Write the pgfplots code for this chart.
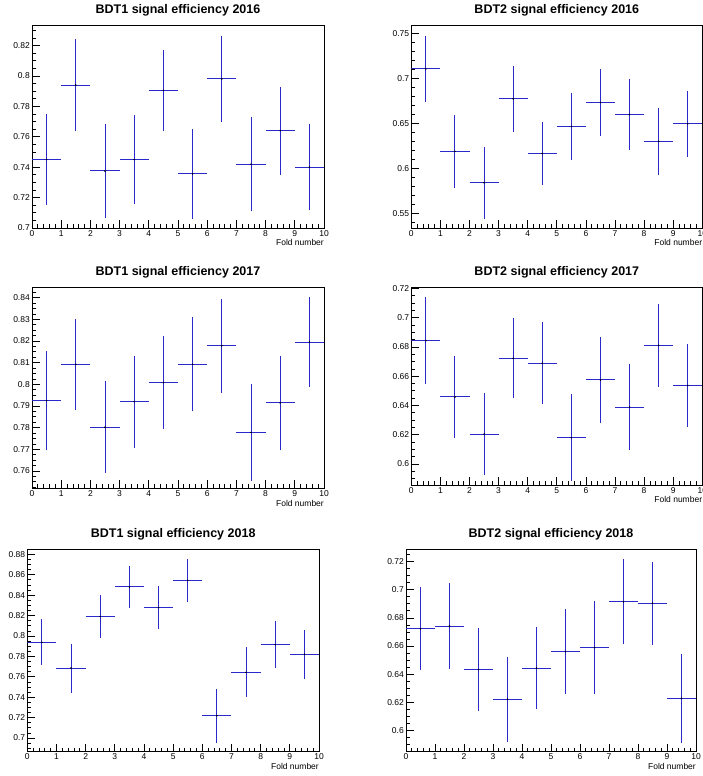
\documentclass[border=0pt]{standalone}
\usepackage{fontspec}
\setmainfont{Liberation Sans}
\usepackage{pgfplots}
\usepackage{pgfplotstable}
\pgfplotsset{compat=1.18}

\definecolor{rootblue}{RGB}{40,40,205}

% fold number, efficiency, error
\pgfplotstableread{
x y e
0.5 0.7450 0.0300
1.5 0.7940 0.0300
2.5 0.7375 0.0310
3.5 0.7450 0.0295
4.5 0.7905 0.0265
5.5 0.7356 0.0295
6.5 0.7980 0.0280
7.5 0.7420 0.0310
8.5 0.7640 0.0290
9.5 0.7400 0.0285
}\bdtAsixteen
\pgfplotstableread{
x y e
0.5 0.7104 0.0365
1.5 0.6188 0.0405
2.5 0.5840 0.0400
3.5 0.6772 0.0366
4.5 0.6165 0.0355
5.5 0.6465 0.0370
6.5 0.6731 0.0368
7.5 0.6598 0.0396
8.5 0.6299 0.0376
9.5 0.6494 0.0364
}\bdtBsixteen
\pgfplotstableread{
x y e
0.5 0.7925 0.0230
1.5 0.8092 0.0210
2.5 0.7802 0.0212
3.5 0.7920 0.0212
4.5 0.8008 0.0213
5.5 0.8092 0.0217
6.5 0.8178 0.0217
7.5 0.7778 0.0224
8.5 0.7914 0.0219
9.5 0.8195 0.0207
}\bdtAseventeen
\pgfplotstableread{
x y e
0.5 0.6843 0.0296
1.5 0.6458 0.0281
2.5 0.6205 0.0280
3.5 0.6722 0.0273
4.5 0.6688 0.0280
5.5 0.6180 0.0296
6.5 0.6574 0.0294
7.5 0.6389 0.0293
8.5 0.6811 0.0282
9.5 0.6537 0.0281
}\bdtBseventeen
\pgfplotstableread{
x y e
0.5 0.7938 0.0225
1.5 0.7686 0.0240
2.5 0.8192 0.0212
3.5 0.8480 0.0207
4.5 0.8277 0.0212
5.5 0.8545 0.0209
6.5 0.7219 0.0266
7.5 0.7644 0.0244
8.5 0.7915 0.0231
9.5 0.7820 0.0237
}\bdtAeighteen
\pgfplotstableread{
x y e
0.5 0.6723 0.0297
1.5 0.6742 0.0306
2.5 0.6432 0.0294
3.5 0.6221 0.0303
4.5 0.6443 0.0293
5.5 0.6560 0.0303
6.5 0.6588 0.0329
7.5 0.6915 0.0303
8.5 0.6904 0.0297
9.5 0.6228 0.0316
}\bdtBeighteen

\pgfplotsset{
  rootpanel/.style={
    scale only axis,
    anchor=south west,
    xmin=0, xmax=10,
    xtick={0,1,...,10},
    minor xtick={0,0.2,...,10},
    tick align=inside,
    xtick pos=bottom, ytick pos=left,
    major tick length=8pt, minor tick length=4pt,
    axis line style={line width=0.8pt},
    every tick/.style={black, line width=0.7pt},
    scaled y ticks=false,
    /pgf/number format/assume math mode=true,
    tick label style={font=\fontsize{8.5}{10}\selectfont, inner sep=1pt},
    xticklabel style={yshift=-1pt},
    yticklabel style={xshift=-1pt},
    xlabel={Fold number},
    xlabel style={at={(rel axis cs:1,0)}, anchor=base east, yshift=-18pt,
      inner sep=0pt, font=\fontsize{8.5}{10}\selectfont},
    every axis title shift=0pt,
    title style={at={(rel axis cs:0.5,1)}, anchor=base, yshift=11.7pt,
      inner sep=0pt, font=\bfseries\fontsize{12.5}{14}\selectfont},
  },
}

% one bin: horizontal bar over the bin width, vertical bar over +-error, small dot
\newcommand{\foldbins}[1]{%
  \addplot[rootblue, line width=1pt, no markers, quiver={u=1, v=0}]
    table[x expr=\thisrow{x}-0.5, y=y] {#1};
  \addplot[rootblue, line width=1pt, no markers, quiver={u=0, v=2*\thisrow{e}}]
    table[x=x, y expr=\thisrow{y}-\thisrow{e}] {#1};
  \addplot[black, only marks, mark=*, mark size=0.55pt] table[x=x, y=y] {#1};
}

\begin{document}
\begin{tikzpicture}
\useasboundingbox (0,0) rectangle (703pt,776pt);

\begin{axis}[rootpanel, at={(32pt,548pt)}, width=292pt, height=202.3pt,
  title={BDT1 signal efficiency 2016},
  ymin=0.7, ymax=0.833, ytick={0.7,0.72,...,0.83},
  minor ytick={0.7,0.705,...,0.833}]
\foldbins{\bdtAsixteen}
\end{axis}

\begin{axis}[rootpanel, at={(411.3pt,548pt)}, width=291pt, height=202.3pt,
  title={BDT2 signal efficiency 2016},
  ymin=0.5337, ymax=0.7585, ytick={0.55,0.6,...,0.76},
  minor ytick={0.54,0.55,...,0.758}]
\foldbins{\bdtBsixteen}
\end{axis}

\begin{axis}[rootpanel, at={(32pt,287.7pt)}, width=292pt, height=200.6pt,
  title={BDT1 signal efficiency 2017},
  ymin=0.752, ymax=0.8446, ytick={0.76,0.77,...,0.845},
  minor ytick={0.7525,0.755,...,0.8446}]
\foldbins{\bdtAseventeen}
\end{axis}

\begin{axis}[rootpanel, at={(411.3pt,291pt)}, width=291pt, height=197.7pt,
  title={BDT2 signal efficiency 2017},
  ymin=0.5857, ymax=0.7207, ytick={0.6,0.62,...,0.721},
  minor ytick={0.59,0.595,...,0.7207}]
\foldbins{\bdtBseventeen}
\end{axis}

\begin{axis}[rootpanel, at={(27.3pt,24.3pt)}, width=291.7pt, height=202.7pt,
  title={BDT1 signal efficiency 2018},
  ymin=0.6866, ymax=0.8852, ytick={0.7,0.72,...,0.885},
  minor ytick={0.69,0.695,...,0.8852}]
\foldbins{\bdtAeighteen}
\end{axis}

\begin{axis}[rootpanel, at={(406pt,24.3pt)}, width=290pt, height=202.7pt,
  title={BDT2 signal efficiency 2018},
  ymin=0.5848, ymax=0.729, ytick={0.6,0.62,...,0.729},
  minor ytick={0.585,0.59,...,0.729}]
\foldbins{\bdtBeighteen}
\end{axis}
\end{tikzpicture}
\end{document}
